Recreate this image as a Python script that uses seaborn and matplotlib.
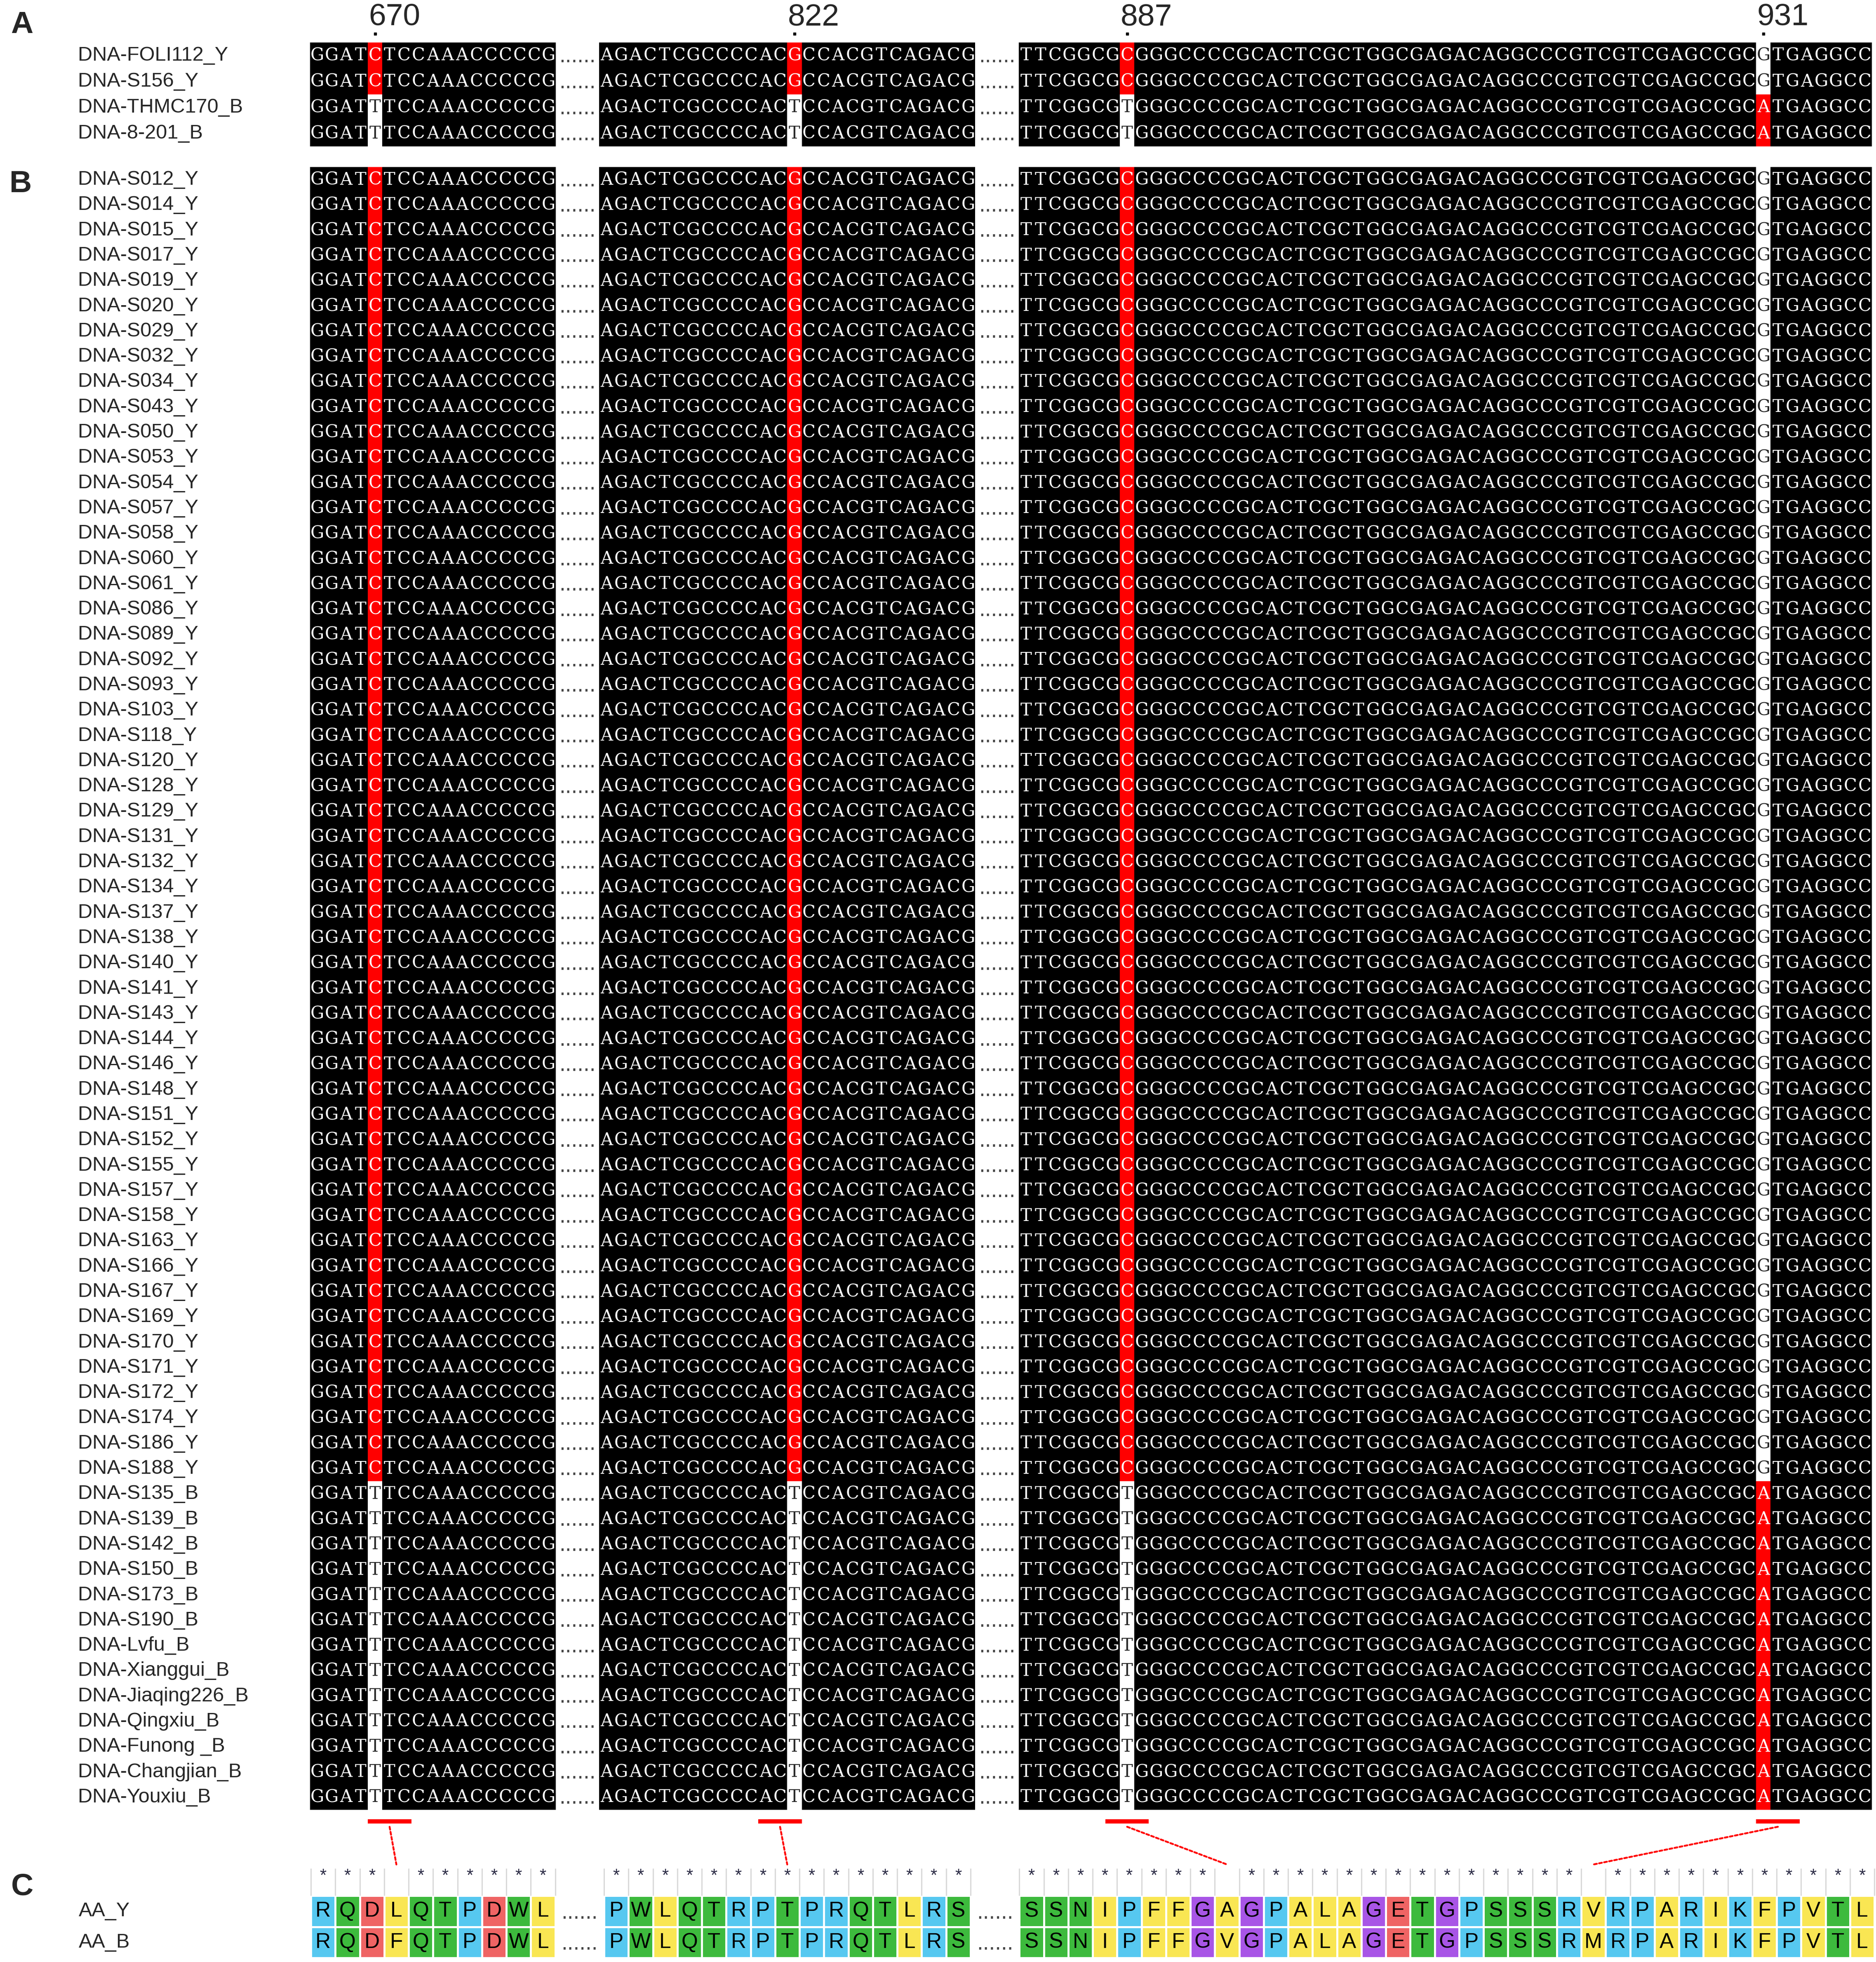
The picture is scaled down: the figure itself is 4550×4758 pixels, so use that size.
import numpy as np
import pandas as pd
import seaborn as sns
import matplotlib.pyplot as plt
from matplotlib.colors import ListedColormap
from matplotlib.patches import ConnectionPatch

sns.set_style("white")
plt.rcParams['font.family'] = ['Liberation Sans', 'DejaVu Sans']

W, H, DPI = 4550, 4758, 100

# ---------------- data ----------------
panel_a_names = ["DNA-FOLI112_Y", "DNA-S156_Y", "DNA-THMC170_B", "DNA-8-201_B"]
panel_b_names = [
    "DNA-S012_Y", "DNA-S014_Y", "DNA-S015_Y", "DNA-S017_Y", "DNA-S019_Y", "DNA-S020_Y",
    "DNA-S029_Y", "DNA-S032_Y", "DNA-S034_Y", "DNA-S043_Y", "DNA-S050_Y", "DNA-S053_Y",
    "DNA-S054_Y", "DNA-S057_Y", "DNA-S058_Y", "DNA-S060_Y", "DNA-S061_Y", "DNA-S086_Y",
    "DNA-S089_Y", "DNA-S092_Y", "DNA-S093_Y", "DNA-S103_Y", "DNA-S118_Y", "DNA-S120_Y",
    "DNA-S128_Y", "DNA-S129_Y", "DNA-S131_Y", "DNA-S132_Y", "DNA-S134_Y", "DNA-S137_Y",
    "DNA-S138_Y", "DNA-S140_Y", "DNA-S141_Y", "DNA-S143_Y", "DNA-S144_Y", "DNA-S146_Y",
    "DNA-S148_Y", "DNA-S151_Y", "DNA-S152_Y", "DNA-S155_Y", "DNA-S157_Y", "DNA-S158_Y",
    "DNA-S163_Y", "DNA-S166_Y", "DNA-S167_Y", "DNA-S169_Y", "DNA-S170_Y", "DNA-S171_Y",
    "DNA-S172_Y", "DNA-S174_Y", "DNA-S186_Y", "DNA-S188_Y",
    "DNA-S135_B", "DNA-S139_B", "DNA-S142_B", "DNA-S150_B", "DNA-S173_B", "DNA-S190_B",
    "DNA-Lvfu_B", "DNA-Xianggui_B", "DNA-Jiaqing226_B", "DNA-Qingxiu_B", "DNA-Funong _B",
    "DNA-Changjian_B", "DNA-Youxiu_B",
]

dna_blocks = [
    "GGATCTCCAAACCCCCG",
    "AGACTCGCCCCACGCCACGTCAGACG",
    "TTCGGCGCGGGCCCCGCACTCGCTGGCGAGACAGGCCCGTCGTCGAGCCGCGTGAGGCC",
]
snp_positions = [670, 822, 887, 931]
snp_block = [0, 1, 2, 2]
snp_index = [4, 13, 7, 51]
allele_y = ["C", "G", "C", "G"]
allele_b = ["T", "T", "T", "A"]
red_allele = ["C", "G", "C", "A"]
codon_offset = [0, -2, -1, 0]

aa_names = ["AA_Y", "AA_B"]
aa_y = ["RQDLQTPDWL", "PWLQTRPTPRQTLRS", "SSNIPFFGAGPALAGETGPSSSRVRPARIKFPVTL"]
aa_b = ["RQDFQTPDWL", "PWLQTRPTPRQTLRS", "SSNIPFFGVGPALAGETGPSSSRMRPARIKFPVTL"]
aa_snp_block = [0, 1, 2, 2]
aa_snp_index = [3, 7, 8, 23]

aa_classes = {"RKP": 0, "QTWSN": 1, "DE": 2, "LFIAVM": 3, "G": 4}
aa_colors = ["#56c8f0", "#3dba3d", "#ef6464", "#f9e653", "#a855e6"]

GAP_NT, GAP_AA = 3, 2


def block_starts(blocks, gap):
    starts, c = [], 0
    for b in blocks:
        starts.append(c)
        c += len(b) + gap
    return starts, c - gap


nt_starts, nt_ncol = block_starts(dna_blocks, GAP_NT)
aa_starts, aa_ncol = block_starts(aa_y, GAP_AA)


def dna_matrix(names):
    vals = np.full((len(names), nt_ncol), np.nan)
    letters = np.full((len(names), nt_ncol), "", dtype=object)
    for r, name in enumerate(names):
        seqs = [list(b) for b in dna_blocks]
        for k in range(4):
            seqs[snp_block[k]][snp_index[k]] = allele_y[k] if name.endswith("_Y") else allele_b[k]
        for bi, s in enumerate(seqs):
            for j, ch in enumerate(s):
                col = nt_starts[bi] + j
                letters[r, col] = ch
                vals[r, col] = 0
        for k in range(4):
            col = nt_starts[snp_block[k]] + snp_index[k]
            vals[r, col] = 1 if letters[r, col] == red_allele[k] else 2
    return pd.DataFrame(vals, index=names), letters


def aa_class(ch):
    for key, v in aa_classes.items():
        if ch in key:
            return v
    return 0


def px_rect(x0, y0, x1, y1):
    return [x0 / W, 1 - y1 / H, (x1 - x0) / W, (y1 - y0) / H]


fig = plt.figure(figsize=(W / DPI, H / DPI), dpi=DPI)
fig.patch.set_facecolor("white")

dna_cmap = ListedColormap(["black", "#ff0000", "white"])
NT_X0, NT_X1 = 752, 4540
LABEL_X = 189


def draw_dna(rect, names):
    ax = fig.add_axes(rect)
    df, letters = dna_matrix(names)
    sns.heatmap(df, ax=ax, cmap=dna_cmap, vmin=-0.5, vmax=2.5, cbar=False,
                annot=letters, fmt="", xticklabels=False, yticklabels=names,
                annot_kws={"fontsize": 30, "fontfamily": "DejaVu Serif"})
    ax.set_yticklabels(names, rotation=0, ha="left", fontsize=35)
    ax.tick_params(axis="y", length=0, pad=(NT_X0 - LABEL_X) * 72 / DPI)
    # dotted gap markers between sequence blocks
    for r in range(len(names)):
        for bi in range(len(dna_blocks) - 1):
            gx = nt_starts[bi] + len(dna_blocks[bi]) + GAP_NT / 2
            ax.text(gx, r + 0.76, "......", ha="center", va="baseline",
                    fontsize=38, color="#444444")
    return ax


axA = draw_dna(px_rect(NT_X0, 103, NT_X1, 355), panel_a_names)
axB = draw_dna(px_rect(NT_X0, 405, NT_X1, 4389), panel_b_names)

# position labels above panel A
for k, pos in enumerate(snp_positions):
    col = nt_starts[snp_block[k]] + snp_index[k]
    axA.text(col + 0.05, -0.66, str(pos), ha="left", va="baseline", fontsize=54,
             clip_on=False)
    axA.plot(col + 0.5, -0.33, marker="s", ms=5, color="black", clip_on=False)

# codon bars under panel B
n_b = len(panel_b_names)
bar_y = n_b + 0.46
bar_centers = []
for k in range(4):
    c0 = nt_starts[snp_block[k]] + snp_index[k] + codon_offset[k]
    axB.plot([c0, c0 + 3], [bar_y, bar_y], color="#ff0000", lw=7.5,
             solid_capstyle="butt", clip_on=False)
    bar_centers.append(c0 + 1.5)

# ---------------- panel C: amino acids ----------------
AA_X0, AA_X1 = 754, 4546
axC = fig.add_axes(px_rect(AA_X0, 4597, AA_X1, 4748))
aa_vals = np.full((2, aa_ncol), np.nan)
aa_letters = np.full((2, aa_ncol), "", dtype=object)
for r, seqs in enumerate([aa_y, aa_b]):
    for bi, s in enumerate(seqs):
        for j, ch in enumerate(s):
            aa_vals[r, aa_starts[bi] + j] = aa_class(ch)
            aa_letters[r, aa_starts[bi] + j] = ch

sns.heatmap(pd.DataFrame(aa_vals, index=aa_names), ax=axC,
            cmap=ListedColormap(aa_colors), vmin=-0.5, vmax=4.5, cbar=False,
            annot=aa_letters, fmt="", linewidths=2.2, linecolor="white",
            xticklabels=False, yticklabels=aa_names,
            annot_kws={"fontsize": 37, "color": "black"})
axC.set_yticklabels(aa_names, rotation=0, ha="left", fontsize=35)
axC.tick_params(axis="y", length=0, pad=(AA_X0 - 191) * 72 / DPI)

# conservation row: separators and stars
for bi in range(len(aa_y)):
    s0 = aa_starts[bi]
    n = len(aa_y[bi])
    axC.vlines(np.arange(s0, s0 + n + 1), -0.88, 0, color="#d9d9d9", lw=2.2,
               clip_on=False)
    for j in range(n):
        if aa_y[bi][j] == aa_b[bi][j]:
            axC.text(s0 + j + 0.5, -0.62, "*", ha="center", va="center",
                     fontsize=30, color="#2b2b45", clip_on=False)
    if bi < len(aa_y) - 1:
        for r in range(2):
            axC.text(s0 + n + GAP_AA / 2, r + 0.74, "......", ha="center",
                     va="baseline", fontsize=38, color="#444444")

# dotted connectors from codon bars to amino acids
for k in range(4):
    ac = aa_starts[aa_snp_block[k]] + aa_snp_index[k] + 0.5
    con = ConnectionPatch(xyA=(bar_centers[k], n_b + 0.67), coordsA=axB.transData,
                          xyB=(ac, -1.0), coordsB=axC.transData,
                          color="#ff0000", lw=3.2, linestyle=(0, (1.6, 1.2)))
    fig.add_artist(con)

# panel letters
for letter, x, y in [("A", 26, 80), ("B", 23, 466), ("C", 27, 4595)]:
    fig.text(x / W, 1 - y / H, letter, fontsize=54, fontweight="bold",
             ha="left", va="baseline")

fig.savefig("out.png", dpi=DPI, facecolor="white")
